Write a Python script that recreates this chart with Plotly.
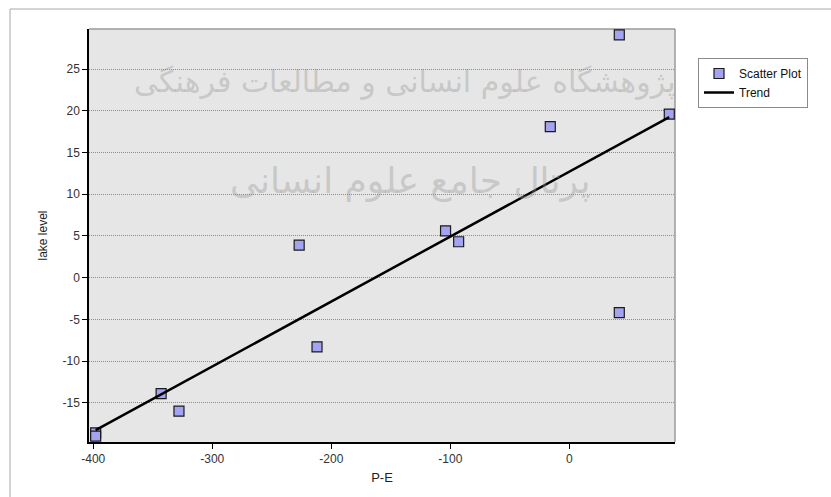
import numpy as np
import plotly.graph_objects as go

# P-E versus lake level observations
pe = [-398, -398, -343, -328, -227, -212, -104, -93, -16, 42, 84, 42]
lake_level = [-18.6, -19.0, -13.9, -16.0, 3.9, -8.3, 5.6, 4.3, 18.1, 29.1, 19.6, -4.2]

x_ticks = [-400, -300, -200, -100, 0]
y_ticks = [-15, -10, -5, 0, 5, 10, 15, 20, 25]
x_tick_labels = ["-400", "-300", "-200", "-100", "0"]
y_tick_labels = ["-15", "-10", "-5", "0", "5", "10", "15", "20", "25"]

# least-squares trend across the observed P-E span
slope, intercept = np.polyfit(pe, lake_level, 1)
trend_x = [min(pe), max(pe)]
trend_y = [slope * v + intercept for v in trend_x]

W, H = 831, 497
L, R, T, B = 89, 156, 29, 55
PW, PH = W - L - R, H - T - B


def px(x):
    return (x - L) / PW


def py(y):
    return (H - B - y) / PH


FONT = "Liberation Sans, Arial, sans-serif"

fig = go.Figure()

fig.add_trace(go.Scatter(
    x=pe, y=lake_level, mode="markers", name="Scatter Plot",
    marker=dict(symbol="square", size=10, color="#a3a3f2",
                line=dict(color="#1a1a1a", width=1.2)),
))
fig.add_trace(go.Scatter(
    x=trend_x, y=trend_y, mode="lines", name="Trend",
    line=dict(color="#000000", width=2.5),
))

shapes = [
    # outer frame (top and left edges)
    dict(type="line", xref="paper", yref="paper", x0=px(10), x1=px(W + 5),
         y0=py(9), y1=py(9), line=dict(color="#a8a8a8", width=1)),
    dict(type="line", xref="paper", yref="paper", x0=px(10), x1=px(10),
         y0=py(9), y1=py(H + 5), line=dict(color="#a8a8a8", width=1)),
    # top and right edges of the plot area
    dict(type="line", xref="paper", yref="paper", x0=0, x1=1, y0=1, y1=1,
         line=dict(color="#9a9a9a", width=1.5), layer="below"),
    dict(type="line", xref="paper", yref="paper", x0=1, x1=1, y0=0, y1=1,
         line=dict(color="#9a9a9a", width=1.5), layer="below"),
]

annotations = [
    dict(text="پژوهشگاه علوم انسانی و مطالعات فرهنگی", xref="paper", yref="paper",
         x=px(405), y=py(62), showarrow=False,
         font=dict(family="DejaVu Sans", size=30, color="rgba(150,150,150,0.4)")),
    dict(text="پرتال جامع علوم انسانی", xref="paper", yref="paper",
         x=px(410), y=py(158), showarrow=False,
         font=dict(family="DejaVu Sans", size=36, color="rgba(150,150,150,0.4)")),
]

fig.update_layout(
    width=W, height=H,
    margin=dict(l=L, r=R, t=T, b=B, pad=0),
    paper_bgcolor="#ffffff",
    plot_bgcolor="#e6e6e6",
    font=dict(family=FONT, size=12, color="#222222"),
    showlegend=True,
    legend=dict(x=px(698), y=py(58), xanchor="left", yanchor="top",
                bgcolor="#ffffff", bordercolor="#8a8a8a", borderwidth=1,
                font=dict(family=FONT, size=12, color="#111111"),
                tracegroupgap=0, itemwidth=30),
    shapes=shapes,
    annotations=annotations,
)

fig.update_xaxes(
    range=[-403.6, 88.8], tickvals=x_ticks, ticktext=x_tick_labels,
    ticks="outside", ticklen=5,
    tickcolor="#000000", tickwidth=1, showgrid=False, zeroline=False,
    showline=True, linecolor="#000000", linewidth=1.5,
    title=dict(text="P-E", standoff=8, font=dict(size=13)),
    tickfont=dict(size=12, color="#333333"),
)
fig.update_yaxes(
    range=[-19.7, 29.8], tickvals=y_ticks, ticktext=y_tick_labels,
    ticks="outside", ticklen=5,
    tickcolor="#000000", tickwidth=1, showgrid=True, gridcolor="#8c8c8c",
    griddash="1px,1px", gridwidth=1, zeroline=False,
    showline=True, linecolor="#000000", linewidth=1.5,
    title=dict(text="lake level", standoff=12, font=dict(size=12)),
    tickfont=dict(size=12, color="#333333"),
)

fig.write_html("out.html")
